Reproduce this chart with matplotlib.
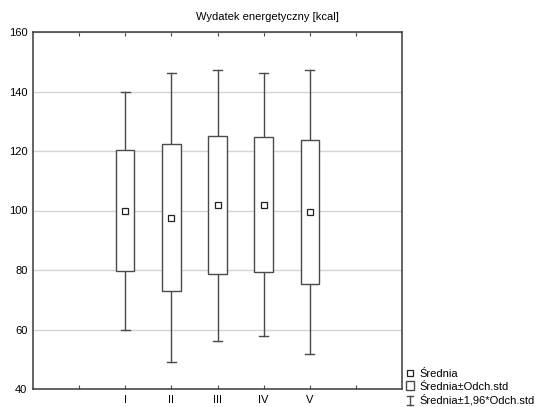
import matplotlib
matplotlib.use('Agg')
import matplotlib.pyplot as plt
import numpy as np
from matplotlib.legend_handler import HandlerBase
from matplotlib.lines import Line2D
from matplotlib.patches import Patch, Rectangle

plt.rcParams['font.family'] = ['Liberation Sans', 'DejaVu Sans']

# data: mean and standard deviation per group
groups = ['I', 'II', 'III', 'IV', 'V']
positions = [2, 3, 4, 5, 6]
means = [99.9, 97.6, 101.7, 102.0, 99.5]
sds = [20.4, 24.8, 23.2, 22.6, 24.3]

title = 'Wydatek energetyczny [kcal]'
legend_labels = ['Średnia', 'Średnia±Odch.std', 'Średnia±1,96*Odch.std']

edge = '#4a4a4a'
fs = 8


class WhiskerHandler(HandlerBase):
    # vertical line with caps, like the Statistica legend symbol
    def create_artists(self, legend, orig_handle, xd, yd, width, height, fontsize, trans):
        cx = xd + width / 2
        h = height * 1.15
        y0 = yd - 0.1 * height
        w = width * 0.6
        lines = [
            Line2D([cx, cx], [y0, y0 + h]),
            Line2D([cx - w / 2, cx + w / 2], [y0, y0]),
            Line2D([cx - w / 2, cx + w / 2], [y0 + h, y0 + h]),
        ]
        for ln in lines:
            ln.set_color(edge)
            ln.set_linewidth(1)
            ln.set_transform(trans)
        return lines


class BoxHandler(HandlerBase):
    def create_artists(self, legend, orig_handle, xd, yd, width, height, fontsize, trans):
        s = height * 1.1
        r = Rectangle((xd + width / 2 - s / 2, yd - 0.05 * height), s, s,
                      facecolor='white', edgecolor=edge, lw=1, transform=trans)
        return [r]


fig = plt.figure(figsize=(5.4, 4.07), dpi=100)
ax = fig.add_axes([33 / 540, 1 - 389 / 407, (402 - 33) / 540, (389 - 32) / 407])

means = np.array(means)
sds = np.array(sds)
box_w = 0.4
cap_w = 0.2
for x, m, s in zip(positions, means, sds):
    lo, hi = m - 1.96 * s, m + 1.96 * s
    ax.plot([x, x], [lo, m - s], color=edge, lw=1, zorder=3)
    ax.plot([x, x], [m + s, hi], color=edge, lw=1, zorder=3)
    ax.plot([x - cap_w / 2, x + cap_w / 2], [lo, lo], color=edge, lw=1, zorder=3)
    ax.plot([x - cap_w / 2, x + cap_w / 2], [hi, hi], color=edge, lw=1, zorder=3)
    ax.add_patch(Rectangle((x - box_w / 2, m - s), box_w, 2 * s,
                           facecolor='white', edgecolor=edge, lw=1, zorder=3))
ax.plot(positions, means, ls='none', marker='s', ms=4.5, mfc='white',
        mec='#222222', mew=0.9, zorder=4)

ax.set_xlim(0, 8)
ax.set_ylim(40, 160)
ax.set_yticks(np.arange(40, 161, 20))
ax.set_xticks(np.arange(1, 8))
ax.set_xticklabels(['' if p not in positions else groups[positions.index(p)]
                    for p in range(1, 8)])
ax.tick_params(axis='x', direction='in', length=3, top=True, color=edge,
               labelsize=fs, pad=4)
ax.tick_params(axis='y', length=0, labelsize=fs, pad=4)
ax.yaxis.grid(True, color='#d4d4d4', lw=1)
ax.set_axisbelow(True)
for sp in ax.spines.values():
    sp.set_color('#3a3a3a')
    sp.set_linewidth(1.1)

fig.text(0.495, 1 - 17 / 407, title, ha='center', va='center', fontsize=fs)

handles = [
    Line2D([], [], ls='none', marker='s', ms=4.5, mfc='white', mec='#222222', mew=0.9),
    Patch(facecolor='white', edgecolor=edge),
    Line2D([], [], color=edge),
]
fig.legend(handles, legend_labels, loc='lower left',
           bbox_to_anchor=(404 / 540, 0.0), frameon=False, fontsize=fs,
           handlelength=0.9, handletextpad=0.35, labelspacing=0.25,
           borderpad=0.1, borderaxespad=0.0,
           handler_map={handles[1]: BoxHandler(), handles[2]: WhiskerHandler()})

fig.savefig('out.png', dpi=100)
